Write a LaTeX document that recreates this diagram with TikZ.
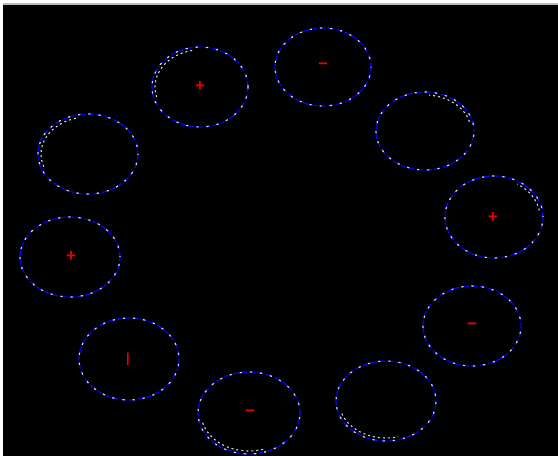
\documentclass[tikz,border=0pt]{standalone}
\usepackage{fontspec}
\setmainfont{Liberation Sans}
\definecolor{ringblue}{RGB}{0,0,255}
\definecolor{ringwhite}{RGB}{215,215,215}
\definecolor{signred}{RGB}{230,0,0}
\definecolor{framegray}{RGB}{185,185,185}
\tikzset{
  bluering/.style={draw=ringblue, line width=1.3pt, dash pattern=on 6pt off 2.5pt},
  whitering/.style={draw=ringwhite, line width=1.2pt, dash pattern=on 2.2pt off 8pt},
  whiteinner/.style={draw=ringwhite, line width=1.1pt, dash pattern=on 2pt off 3pt},
  sign/.style={text=signred, font=\fontsize{17}{17}\selectfont\bfseries, inner sep=0pt, anchor=center}
}
\begin{document}
\begin{tikzpicture}[x=1pt,y=-1pt]
\useasboundingbox (0,0) rectangle (558,456);
\fill[white] (0,0) rectangle (558,456);
\fill[framegray] (3,3) rectangle (558,5);
\fill[black] (3,5) rectangle (558,456);
% cx, cy, rx, ry, dash phase
\foreach \cx/\cy/\rx/\ry/\ph in {
  200/87/48/40/0,
  323/67/48/39/2,
  425/131/49/39/4,
  494/217/49/41/1,
  472/326/49/40/3,
  386/401/50/40/5,
  249/413/51/41/2,
  129/359/50/41/6,
  70/257/50/40/1,
  88/154/50/40/3}{
  \draw[bluering, dash phase=\ph pt] (\cx,\cy) ellipse [x radius=\rx pt, y radius=\ry pt];
  \draw[whitering, dash phase=\ph pt] (\cx,\cy) ellipse [x radius=\rx pt, y radius=\ry pt];
}
% inner second strands: cx, cy, rx, ry, start, end (canvas angles)
\foreach \cx/\cy/\rx/\ry/\a/\b in {
  200/87/45/37/100/200,
  425/131/46/36/15/85,
  494/217/46/38/10/60,
  386/401/47/37/200/285,
  249/413/48/38/195/290,
  88/154/47/37/105/200}{
  \draw[whiteinner] (\cx,\cy) ++(\a:\rx pt and \ry pt)
    arc[start angle=\a, end angle=\b, x radius=\rx pt, y radius=\ry pt];
}
\node[sign] (s1) at (200,87) {+};
\node[sign] (s2) at (323,66) {−};
\node[sign] (s4) at (493,218) {+};
\node[sign] (s5) at (472,326) {−};
\node[sign] (s7) at (250,413) {−};
\node[sign, font=\fontsize{13}{13}\selectfont\bfseries] (s8) at (128,359) {|};
\node[sign] (s9) at (71,257) {+};
\end{tikzpicture}
\end{document}
